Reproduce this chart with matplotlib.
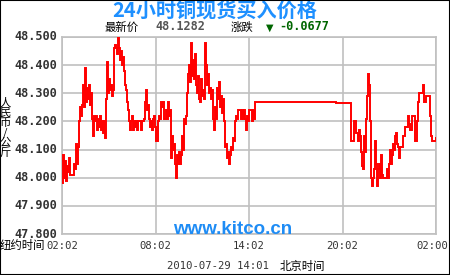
import matplotlib
matplotlib.use("Agg")
import matplotlib.pyplot as plt
from matplotlib.patches import Rectangle

# minutes since 02:02 New York time, and copper price (RMB/kg)
minutes = [0, 4, 8, 12, 15, 19, 23, 27, 31, 42, 46, 50, 54, 58, 62, 65, 69, 73, 77, 81,
           85, 89, 92, 96, 100, 104, 108, 112, 116, 119, 123, 127, 131, 135, 139, 142, 146,
           150, 154, 158, 162, 166, 169, 173, 177, 181, 185, 189, 193, 196, 200, 204, 208,
           212, 216, 219, 223, 227, 231, 235, 239, 243, 246, 250, 254, 258, 262, 266, 270,
           273, 277, 281, 285, 289, 293, 300, 304, 308, 316, 320, 323, 327, 331, 335, 339,
           343, 347, 350, 354, 358, 362, 366, 370, 373, 377, 381, 385, 389, 393, 397, 400,
           404, 408, 412, 416, 420, 423, 427, 431, 435, 439, 443, 447, 450, 454, 458, 462,
           466, 470, 474, 477, 481, 485, 489, 493, 497, 501, 504, 508, 512, 516, 520, 524,
           527, 531, 535, 539, 543, 547, 551, 554, 558, 562, 566, 570, 574, 578, 581, 585,
           589, 593, 597, 601, 604, 608, 612, 616, 620, 624, 628, 631, 635, 639, 643, 647,
           651, 655, 658, 662, 666, 670, 674, 678, 685, 689, 693, 697, 701, 705, 709, 712,
           716, 720, 728, 732, 735, 739, 743, 1055, 1113, 1124, 1132, 1136, 1140, 1143, 1147,
           1151, 1155, 1159, 1163, 1167, 1170, 1174, 1178, 1182, 1186, 1190, 1194, 1197, 1201,
           1205, 1209, 1213, 1217, 1221, 1224, 1228, 1232, 1236, 1240, 1247, 1251, 1255, 1259,
           1263, 1267, 1271, 1274, 1278, 1282, 1286, 1290, 1294, 1298, 1301, 1309, 1313, 1317,
           1321, 1328, 1332, 1336, 1340, 1344, 1348, 1355, 1359, 1367, 1371, 1374, 1386, 1390,
           1394, 1401, 1413, 1417, 1421, 1425, 1440]
prices = [47.98, 48.08, 48.00, 48.06, 47.99, 48.04, 48.02, 48.07, 48.01, 48.01, 48.05, 48.03,
          48.12, 48.05, 48.11, 48.20, 48.25, 48.22, 48.26, 48.33, 48.25, 48.39, 48.27, 48.32,
          48.28, 48.33, 48.26, 48.30, 48.21, 48.15, 48.22, 48.20, 48.22, 48.17, 48.21, 48.18,
          48.22, 48.17, 48.20, 48.16, 48.20, 48.14, 48.28, 48.41, 48.30, 48.35, 48.31, 48.33,
          48.29, 48.31, 48.46, 48.47, 48.46, 48.44, 48.50, 48.46, 48.42, 48.45, 48.40, 48.43,
          48.38, 48.33, 48.31, 48.27, 48.24, 48.20, 48.17, 48.20, 48.22, 48.17, 48.20, 48.18,
          48.20, 48.17, 48.20, 48.20, 48.17, 48.20, 48.21, 48.27, 48.31, 48.24, 48.26, 48.21,
          48.18, 48.20, 48.17, 48.21, 48.22, 48.18, 48.13, 48.13, 48.20, 48.22, 48.21, 48.27,
          48.25, 48.27, 48.21, 48.21, 48.24, 48.21, 48.27, 48.22, 48.24, 48.07, 48.15, 48.10,
          48.12, 48.05, 48.00, 48.08, 48.05, 48.09, 48.05, 48.08, 48.15, 48.10, 48.21, 48.19,
          48.22, 48.30, 48.37, 48.40, 48.34, 48.48, 48.36, 48.42, 48.35, 48.44, 48.33, 48.30,
          48.36, 48.28, 48.27, 48.35, 48.29, 48.31, 48.28, 48.48, 48.40, 48.33, 48.37, 48.30,
          48.32, 48.28, 48.31, 48.21, 48.17, 48.25, 48.21, 48.32, 48.28, 48.34, 48.25, 48.29,
          48.23, 48.28, 48.20, 48.11, 48.12, 48.07, 48.09, 48.05, 48.08, 48.11, 48.10, 48.14,
          48.13, 48.20, 48.22, 48.21, 48.24, 48.24, 48.21, 48.24, 48.21, 48.24, 48.21, 48.17,
          48.22, 48.20, 48.24, 48.24, 48.20, 48.24, 48.21, 48.27, 48.265, 48.13, 48.20, 48.16,
          48.16, 48.13, 48.17, 48.15, 48.09, 48.04, 48.03, 48.15, 48.09, 48.21, 48.29, 48.37,
          48.33, 48.20, 48.00, 47.97, 48.00, 48.03, 48.13, 48.05, 47.97, 48.03, 48.05, 48.00,
          48.08, 48.01, 48.00, 48.00, 48.00, 48.03, 48.00, 48.05, 48.10, 48.05, 48.08, 48.12,
          48.10, 48.15, 48.16, 48.12, 48.11, 48.07, 48.11, 48.11, 48.15, 48.15, 48.18, 48.18,
          48.22, 48.19, 48.17, 48.17, 48.22, 48.22, 48.13, 48.20, 48.27, 48.30, 48.30, 48.33,
          48.27, 48.29, 48.29, 48.22, 48.15, 48.13, 48.14]

x_ticks = [0, 360, 720, 1080, 1440]
x_labels = ["02:02", "08:02", "14:02", "20:02", "02:00"]
y_ticks = [47.8, 47.9, 48.0, 48.1, 48.2, 48.3, 48.4, 48.5]
y_labels = ["47.800", "47.900", "48.000", "48.100", "48.200", "48.300", "48.400", "48.500"]

title = "24小时铜现货买入价格"
latest_label = "最新价"
latest_value = "48.1282"
change_label = "涨跌"
change_value = "-0.0677"
date_text = "2010-07-29 14:01"
tz_text = "北京时间"
ny_text = "纽约时间"
unit_text = "人\n民\n币\n/\n公\n斤"
watermark = "www.kitco.cn"

W, H = 450, 275
fig = plt.figure(figsize=(W / 100, H / 100), dpi=100)
fig.patch.set_facecolor("white")

def fx(px):
    return px / W

def fy(py):
    return 1 - py / H

ax = fig.add_axes([fx(62), fy(234), fx(436) - fx(62), fy(37) - fy(234)])
ax.set_xlim(0, 1440)
ax.set_ylim(47.8, 48.5)
ax.set_xticks(x_ticks)
ax.set_yticks(y_ticks)
ax.grid(True, color="#c0c0c0", linewidth=1.2)
ax.set_axisbelow(True)
for s in ax.spines.values():
    s.set_color("#c0c0c0")
    s.set_linewidth(1.2)
ax.tick_params(length=0, labelbottom=False, labelleft=False)

ax.plot(minutes, prices, color="#ff0000", linewidth=1.4, drawstyle="steps-post",
        solid_joinstyle="miter", zorder=3)

mono = "DejaVu Sans Mono"
cjk = ["Noto Sans CJK SC", "DejaVu Sans"]

# y tick labels
for v, lab in zip(y_ticks, y_labels):
    ax.text(-0.012, v, lab, transform=ax.get_yaxis_transform(), ha="right", va="center",
            family=mono, fontweight="bold", fontsize=8.6, color="#333333")
# x tick labels (last one kept inside the frame)
for i, (v, lab) in enumerate(zip(x_ticks, x_labels)):
    ha = "right" if i == len(x_ticks) - 1 else "center"
    xx = 1.0 + 12 / 374 if ha == "right" else v / 1440
    ax.text(xx, -0.06, lab, transform=ax.transAxes, ha=ha, va="center",
            family=mono, fontsize=7.6, color="#333333", clip_on=False)

fig.text(fx(0), fy(246), ny_text, ha="left", va="center", family=cjk, fontsize=8.2,
         color="black")
fig.text(fx(5), fy(128), unit_text, ha="center", va="center", family=cjk, fontsize=8.2,
         color="black", linespacing=0.95)

fig.text(fx(215), fy(10), title, ha="center", va="center", family=cjk, fontsize=14.5,
         fontweight="bold", color="#1e90ff")

fig.text(fx(122), fy(27), latest_label, ha="center", va="center", family=cjk, fontsize=8.2,
         color="black")
fig.text(fx(180), fy(27), latest_value, ha="center", va="center", family=mono,
         fontweight="bold", fontsize=8.6, color="#555555")
fig.text(fx(242), fy(27), change_label, ha="center", va="center", family=cjk, fontsize=8.2,
         color="black")
fig.text(fx(270), fy(28), "▼", ha="center", va="center", family="DejaVu Sans",
         fontsize=7, color="#006600")
fig.text(fx(304), fy(27), change_value, ha="center", va="center", family=mono,
         fontweight="bold", fontsize=8.6, color="#006600")

fig.text(fx(233), fy(229), watermark, ha="center", va="center", family="Liberation Sans",
         fontweight="bold", fontsize=13.5, color="#1e8cf5")

fig.text(fx(218), fy(266), date_text, ha="center", va="center", family=mono, fontsize=7.6,
         color="#333333")
fig.text(fx(302), fy(266), tz_text, ha="center", va="center", family=cjk, fontsize=8.2,
         color="black")

fig.patches.append(Rectangle((0, 0), 1, 1, transform=fig.transFigure, fill=False,
                             edgecolor="black", linewidth=1.5, zorder=10))

fig.savefig("out.png", dpi=100)
